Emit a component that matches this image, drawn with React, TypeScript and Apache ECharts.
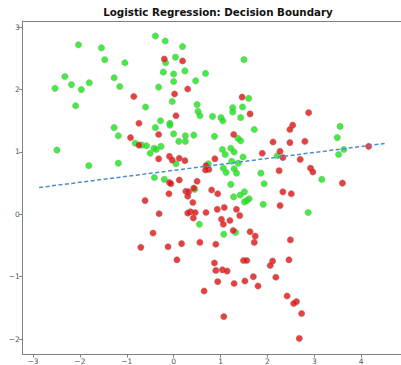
import React, { useEffect, useRef } from "react";
import * as echarts from "echarts";

const titleText = "Logistic Regression: Decision Boundary";
const xTicks = [-3, -2, -1, 0, 1, 2, 3, 4];
const yTicks = [-2, -1, 0, 1, 2, 3];

const greenX = [
  -2.03, -1.54, -1.47, -1.04, -2.32, -1.80, -1.27, -2.18, -2.53, -1.97, -1.15, -2.09, -1.27, -1.18,
  -0.39, -0.18, 0.19, -0.17, 0.04, 1.50, -0.22, 0.00, 0.24, 0.68, 0.00, 0.47, -0.32, -0.03, -0.60,
  0.50, 0.52, 0.56, 0.83, 1.01, 1.05, 1.60, 1.26, 1.47, 1.26, 1.43, -0.28, -0.08, -0.08, -0.39,
  1.72, 0.00, 0.25, 0.43, 0.87, 1.37, 1.43, 3.55, 3.49, -0.82, -0.68, -0.58, -2.49, -1.81, -1.18,
  -0.42, -0.37, -0.27, 0.11, 0.25, -0.50, 0.05, 1.04, 1.10, 1.22, 1.29, 1.48, 1.24, 1.38, 0.74,
  1.06, 1.12, 1.29, 1.34, 1.86, 1.93, -0.41, -0.20, 1.22, 0.45, 1.51, 1.42, 1.28, 1.61, 1.56,
  1.51, 1.91, 0.55, 1.07, 1.32, 2.21, 3.63, 3.52, 3.16, 2.87,
];
const greenY = [
  2.72, 2.67, 2.48, 2.43, 2.21, 2.11, 2.19, 2.08, 2.02, 2.00, 2.05, 1.74, 1.39, 1.26,
  2.86, 2.78, 2.69, 2.43, 2.52, 2.48, 2.28, 2.25, 2.30, 2.26, 2.13, 2.14, 2.04, 1.81, 1.72,
  1.76, 1.65, 1.58, 1.57, 1.55, 1.50, 1.86, 1.71, 1.72, 1.64, 1.55, 1.50, 1.46, 1.43, 1.39,
  1.36, 1.29, 1.26, 1.27, 1.25, 1.22, 1.18, 1.41, 1.23, 1.14, 1.11, 1.10, 1.03, 0.78, 0.82,
  1.06, 1.04, 1.09, 1.17, 1.17, 0.98, 0.81, 1.04, 0.96, 1.06, 1.00, 0.92, 0.85, 0.82, 0.81,
  0.74, 0.67, 0.73, 0.66, 0.66, 0.49, 0.59, 0.56, 0.48, 0.40, 0.36, 0.31, 0.28, 0.25, 0.22,
  0.20, 0.16, -0.16, -0.32, -0.29, 0.94, 1.04, 0.96, 0.56, 0.03,
];

const redX = [
  -0.85, -0.92, -0.74, -0.20, 0.19, 0.02, 0.30, 0.05, 1.46, 1.63, -0.32, 1.28, 2.88, 2.54, 2.48,
  -0.74, -0.09, -0.03, 0.12, 0.24, -0.32, 0.88, 1.89, 0.69, 0.75, 0.68, -0.09, -0.06, 0.12, 0.50,
  0.43, 0.81, 0.94, 0.26, 0.32, 0.30, -0.10, -0.61, 0.41, 1.08, 0.93, 1.34, 0.36, 0.30, 0.46,
  0.69, -0.31, 0.42, 1.41, 1.02, 1.20, 1.06, 1.27, 1.63, 1.74, -0.44, 1.72, 0.56, 0.17, -0.12,
  0.90, -0.70, 2.12, 2.48, 2.80, 2.27, 2.33, 4.16, 2.70, 2.25, 2.92, 2.97, 3.60, 2.33, 2.51,
  2.27, 2.49, 0.07, 0.87, 0.90, 1.04, 1.14, 1.49, 1.56, 0.94, 1.29, 1.52, 1.70, 1.80, 0.65,
  1.07, 2.11, 2.06, 2.46, 2.18, 2.42, 2.62, 2.56, 2.73, 2.68,
];
const redY = [
  1.89, 1.23, 1.46, 2.49, 2.46, 1.93, 2.01, 1.58, 1.88, 1.61, 1.28, 1.28, 1.63, 1.43, 1.36,
  1.11, 0.93, 0.87, 0.90, 0.86, 0.89, 0.89, 0.98, 0.78, 0.72, 0.71, 0.51, 0.49, 0.55, 0.53,
  0.42, 0.39, 0.33, 0.37, 0.36, 0.29, 0.33, 0.22, 0.19, 0.11, 0.08, 0.08, 0.04, 0.02, 0.03,
  0.03, 0.01, -0.06, -0.02, -0.08, -0.10, -0.16, -0.26, -0.28, -0.35, -0.30, -0.45, -0.45, -0.47, -0.52,
  -0.48, -0.53, 1.16, 1.15, 1.17, 1.01, 0.91, 1.09, 0.88, 0.70, 0.74, 0.68, 0.50, 0.36, 0.33,
  0.14, -0.41, -0.73, -0.78, -0.90, -0.89, -0.91, -0.74, -0.74, -1.08, -1.11, -1.07, -1.00, -1.15, -1.23,
  -1.64, -0.75, -0.82, -0.73, -1.01, -1.31, -1.40, -1.43, -1.59, -1.99,
];

const boundaryX = [-2.87, 4.5];
const boundaryY = [0.43, 1.135];

const fmt = (v: number) => (v < 0 ? "\u2212" + Math.abs(v) : String(v));

export default function App() {
  const ref = useRef<HTMLDivElement>(null);
  useEffect(() => {
    if (!ref.current) return;
    const chart = echarts.init(ref.current, undefined, { renderer: "svg" });
    const spine = { show: true, lineStyle: { color: "#808080", width: 1 } };
    const tickStyle = { color: "#808080", width: 1 };
    const labelStyle = { color: "#555", fontSize: 7.5, fontFamily: "DejaVu Sans" };
    chart.setOption({
      animation: false,
      backgroundColor: "#fff",
      title: {
        text: titleText,
        left: 213,
        textAlign: "center",
        top: 2,
        textStyle: { fontFamily: "DejaVu Sans", fontWeight: "bold", fontSize: 10.3, color: "#111" },
      },
      grid: { left: 22.7, right: -3, top: 21, bottom: 9 },
      xAxis: [
        {
          type: "value",
          min: -3.22,
          max: 4.85,
          axisLine: { ...spine, onZero: false },
          axisTick: { show: true, length: 3.5, inside: false, lineStyle: tickStyle, customValues: xTicks },
          axisLabel: { ...labelStyle, margin: 3, customValues: xTicks, formatter: fmt },
          splitLine: { show: false },
        },
        {
          type: "value",
          position: "top",
          min: -3.22,
          max: 4.85,
          axisLine: { ...spine, onZero: false },
          axisTick: { show: false },
          axisLabel: { show: false },
          splitLine: { show: false },
        },
      ],
      yAxis: {
        type: "value",
        min: -2.24,
        max: 3.1,
        axisLine: { ...spine, onZero: false },
        axisTick: { show: true, length: 3.5, inside: false, lineStyle: tickStyle, customValues: yTicks },
        axisLabel: { ...labelStyle, margin: 3, customValues: yTicks, formatter: fmt },
        splitLine: { show: false },
      },
      series: [
        {
          type: "scatter",
          data: greenX.map((x, i) => [x, greenY[i]]),
          symbolSize: 6.5,
          itemStyle: { color: "#14e614", borderColor: "rgba(150,150,150,0.6)", borderWidth: 0.7 },
        },
        {
          type: "scatter",
          data: redX.map((x, i) => [x, redY[i]]),
          symbolSize: 6.5,
          itemStyle: { color: "#e01010", borderColor: "rgba(150,150,150,0.6)", borderWidth: 0.7 },
        },
        {
          type: "line",
          data: boundaryX.map((x, i) => [x, boundaryY[i]]),
          showSymbol: false,
          lineStyle: { color: "#4a8fc9", width: 1.5, type: [4, 2.5] },
          z: 5,
        },
      ],
    });
    return () => chart.dispose();
  }, []);
  return <div ref={ref} style={{ width: 401, height: 365, position: "absolute", left: 0, top: 0 }} />;
}
